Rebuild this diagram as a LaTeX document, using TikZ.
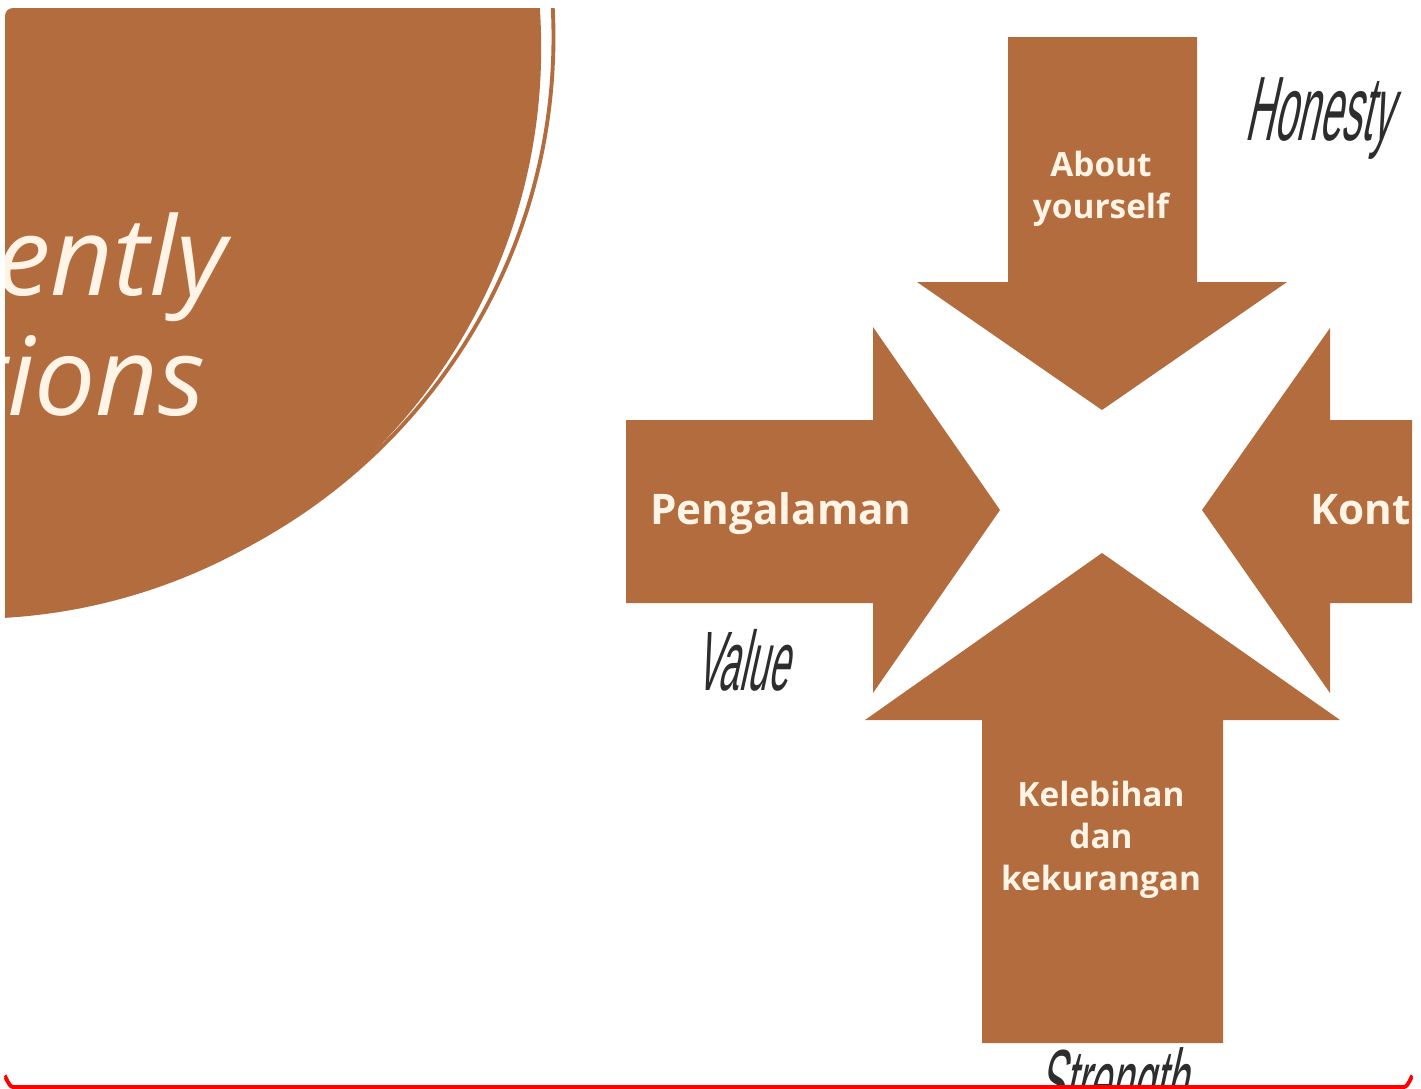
\documentclass[tikz,border=0pt]{standalone}
\usepackage{fontspec}
\setmainfont{Open Sans}
\newfontfamily\handfont[FakeSlant=0.22,FakeStretch=0.44]{Liberation Sans}
\usetikzlibrary{calc}
\definecolor{rust}{RGB}{178,108,62}
\definecolor{cream}{RGB}{255,244,230}
\definecolor{ink}{RGB}{45,45,45}

\begin{document}
\begin{tikzpicture}[x=0.02cm, y=-0.02cm,
    lbl/.style={text=cream, font=\bfseries\fontsize{19}{24}\selectfont, align=center, inner sep=0pt},
    big/.style={anchor=base east, text=cream, inner sep=0pt, font=\itshape\fontsize{62}{62}\selectfont},
    hand/.style={text=ink, inner sep=0pt, anchor=base}]
    \useasboundingbox (0,0) rectangle (1421,1089);
    \fill[white] (0,0) rectangle (1421,1089);

    \begin{scope}
    \clip[rounded corners=0.16cm] (5,8) rectangle (1412,1087);
    % big circle top left, with its thin outer ring
    \draw[rust, line width=2.2pt] (-20.6,37.2) circle (11.484cm);
    \fill[rust] (-29.7,48) circle (11.42cm);
    \node (ently) [big] at (227,295) {ently};
    \node (tions) [big] at (206,415) {tions};

    % the four arrows
    \fill[rust] (1008,37) -- (1197,37) -- (1197,282) -- (1287,282) -- (1102,410) -- (917,282) -- (1008,282) -- cycle;
    \fill[rust] (626,420) -- (873,420) -- (873,327) -- (1000,510) -- (873,693) -- (873,603) -- (626,603) -- cycle;
    \fill[rust] (1425,420) -- (1330,420) -- (1330,328) -- (1202,510) -- (1330,693) -- (1330,603) -- (1425,603) -- cycle;
    \fill[rust] (982,1043) -- (982,720) -- (865,720) -- (1102,553) -- (1340,720) -- (1223,720) -- (1223,1043) -- cycle;

    \node (about) [lbl] at (1101,189) {About\\yourself};
    \node (pengalaman) [lbl, font=\bfseries\fontsize{24}{28}\selectfont, anchor=base] at (781,524) {Pengalaman};
    \node (kont) [lbl, font=\bfseries\fontsize{24}{28}\selectfont, anchor=base west] at (1310,524) {Kont};
    \node (kelebihan) [lbl] at (1101,840) {Kelebihan\\dan\\kekurangan};

    \node (honesty) [hand, font=\handfont\fontsize{52}{52}\selectfont] at (1318,140) {Honesty};
    \node (value) [hand, font=\handfont\fontsize{48}{48}\selectfont] at (742,690) {Value};
    \node (strength) [hand, font=\handfont\fontsize{51}{51}\selectfont] at (1111,1112) {Strength};
    \end{scope}

    \draw[red, line width=2.2pt] (5,1078) to[out=90,in=180] (13,1087) -- (1404,1087) to[out=0,in=90] (1412,1078);
\end{tikzpicture}
\end{document}
